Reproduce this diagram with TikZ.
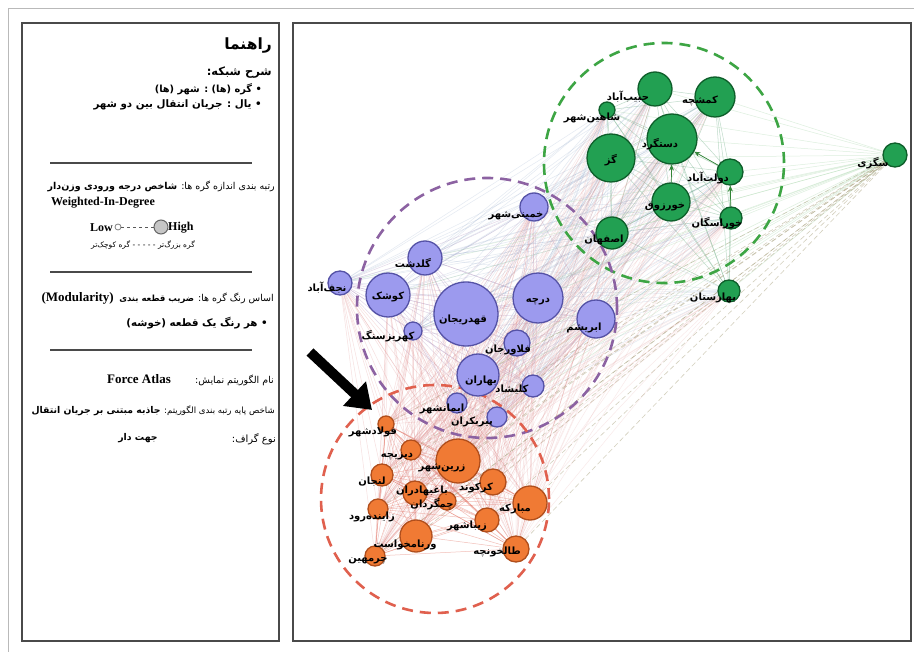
\documentclass[tikz,border=0pt]{standalone}
\usepackage{fontspec}
\setmainfont{Liberation Serif}
\newfontfamily\fa[Script=Arabic]{DejaVu Sans}
\TeXXeTstate=1
\usetikzlibrary{arrows.meta}
\pgfdeclarelayer{paper}
\pgfdeclarelayer{edges}
\pgfdeclarelayer{clusters}
\pgfsetlayers{paper,edges,clusters,main}
\newcommand\rtl[1]{\beginR #1\endR}
\definecolor{gfill}{HTML}{22A052}
\definecolor{gline}{HTML}{0E5E2A}
\definecolor{pfill}{HTML}{9C9AEE}
\definecolor{pline}{HTML}{5552A6}
\definecolor{ofill}{HTML}{F07A34}
\definecolor{oline}{HTML}{B04E1C}
\definecolor{gdash}{HTML}{3DA544}
\definecolor{pdash}{HTML}{8C62A2}
\definecolor{odash}{HTML}{E0604E}
\definecolor{framec}{HTML}{4A4A4A}
\definecolor{edgeb}{HTML}{8FA6C8}
\definecolor{edgep}{HTML}{E08C8C}
\begin{document}
\begin{tikzpicture}[x=1pt,y=-1pt,
  gn/.style={circle,draw=gline,fill=gfill,line width=1.3pt,inner sep=0pt},
  pn/.style={circle,draw=pline,fill=pfill,line width=1.3pt,inner sep=0pt},
  on/.style={circle,draw=oline,fill=ofill,line width=1.3pt,inner sep=0pt},
  lab/.style={font=\fa\bfseries\fontsize{10}{10}\selectfont,inner sep=0pt,text=black},
  ptxt/.style={font=\fa,inner sep=0pt,text=black},
  etxt/.style={font=\bfseries\fontsize{12}{12}\selectfont,inner sep=0pt},
  clu/.style={circle,dashed,dash pattern=on 11pt off 7pt,line width=2.6pt,inner sep=0pt},
  ge/.style={gdash!60!edgeb,opacity=0.4,line width=0.5pt},
  pe/.style={pdash!70,opacity=0.35,line width=0.5pt},
  oe/.style={odash,opacity=0.4,line width=0.5pt},
  gpe/.style={edgeb,opacity=0.24,line width=0.5pt},
  oge/.style={edgep,opacity=0.18,line width=0.5pt},
  poe/.style={edgep,opacity=0.27,line width=0.5pt},
  se/.style={gdash!50,opacity=0.35,line width=0.5pt},
  sde/.style={edgep!60!gdash,opacity=0.45,line width=0.6pt,dashed,dash pattern=on 5pt off 3pt},
  rule/.style={framec,line width=1.4pt}]
\useasboundingbox (0,0) rectangle (914,652);
\begin{pgfonlayer}{paper}
\fill[white] (0,0) rectangle (914,652);
\end{pgfonlayer}
\draw[gray!55,line width=1pt] (8,652) -- (8,9) -- (914,9);
\draw[framec,line width=2.2pt] (22,23) rectangle (279,641);
\draw[framec,line width=2.2pt] (293,23) rectangle (911,641);

% ---------- legend ----------
\node[ptxt,anchor=east] (t1) at (272,46) {\rtl{\fontsize{15.5}{16}\selectfont\bfseries راهنما}};
\node[ptxt,anchor=east] (t2) at (272,73) {\rtl{\fontsize{11.5}{12}\selectfont\bfseries شرح شبکه:}};
\node[ptxt,anchor=east] (t3) at (262,89) {\rtl{\fontsize{9.8}{10}\selectfont\bfseries • گره (ها) : شهر (ها)}};
\node[ptxt,anchor=east] (t4) at (262,105) {\rtl{\fontsize{10.3}{11}\selectfont\bfseries • یال : جریان انتقال بین دو شهر}};
\draw[rule] (50,163) -- (252,163);
\node[ptxt,anchor=east] (t5) at (275,186) {\rtl{{\fontsize{9.5}{10}\selectfont\color{black!70} رتبه بندی اندازه گره ها: }{\fontsize{9.5}{10}\selectfont\bfseries شاخص درجه ورودی وزن‌دار}}};
\node[etxt] (t6) at (103,203) {Weighted-In-Degree};
\node[etxt,anchor=east] (low) at (113,228) {Low};
\node[circle,draw=gray,line width=0.8pt,minimum size=6pt,inner sep=0pt] (sc) at (118,227) {};
\node[circle,draw=gray!80!black,fill=gray!45,line width=1pt,minimum size=14pt,inner sep=0pt] (bc) at (161,227) {};
\draw[gray!70!black,dashed,dash pattern=on 3pt off 3pt,line width=0.8pt] (sc) -- (bc);
\node[etxt,anchor=west] (high) at (168,228) {High};
\node[ptxt] (t7) at (143,245) {\rtl{\fontsize{7.5}{8}\selectfont گره بزرگ‌تر - - - - - گره کوچک‌تر}};
\draw[rule] (50,272) -- (252,272);
\node[ptxt,anchor=east] (t8) at (274,298) {\rtl{{\fontsize{9.5}{10}\selectfont\color{black!70} اساس رنگ گره ها: }{\fontsize{8.5}{9}\selectfont\bfseries ضریب قطعه بندی}}};
\node[etxt,anchor=east,font=\bfseries\fontsize{13}{13}\selectfont] (t8b) at (114,298) {(Modularity)};
\node[ptxt,anchor=east] (t9) at (268,323) {\rtl{\fontsize{10.3}{11}\selectfont\bfseries • هر رنگ یک قطعه (خوشه)}};
\draw[rule] (50,350) -- (252,350);
\node[ptxt,anchor=east] (t10) at (274,380) {\rtl{\fontsize{9.5}{10}\selectfont\color{black!70} نام الگوریتم نمایش:}};
\node[etxt,font=\bfseries\fontsize{13}{13}\selectfont] (t10b) at (139,379) {Force Atlas};
\node[ptxt,anchor=east] (t11) at (275,411) {\rtl{{\fontsize{8.6}{9}\selectfont\color{black!70} شاخص پایه رتبه بندی الگوریتم: }{\fontsize{9.3}{10}\selectfont\bfseries جاذبه مبتنی بر جریان انتقال}}};
\node[ptxt,anchor=east] (t12) at (276,439) {\rtl{\fontsize{10}{10}\selectfont\color{black!70} نوع گراف:}};
\node[ptxt] (t12b) at (138,438) {\rtl{\fontsize{9.3}{10}\selectfont\bfseries جهت دار}};

% ---------- nodes ----------
\node[gn,minimum size=34pt] (g1) at (655,89) {};
\node[gn,minimum size=40pt] (g2) at (715,97) {};
\node[gn,minimum size=16pt] (g3) at (607,110) {};
\node[gn,minimum size=50pt] (g4) at (672,139) {};
\node[gn,minimum size=48pt] (g5) at (611,158) {};
\node[gn,minimum size=26pt] (g6) at (730,172) {};
\node[gn,minimum size=38pt] (g7) at (671,202) {};
\node[gn,minimum size=22pt] (g8) at (731,218) {};
\node[gn,minimum size=32pt] (g9) at (612,233) {};
\node[gn,minimum size=22pt] (g10) at (729,291) {};
\node[gn,minimum size=24pt] (g11) at (895,155) {};

\node[pn,minimum size=28pt] (p1) at (534,207) {};
\node[pn,minimum size=34pt] (p2) at (425,258) {};
\node[pn,minimum size=24pt] (p3) at (340,283) {};
\node[pn,minimum size=44pt] (p4) at (388,295) {};
\node[pn,minimum size=64pt] (p5) at (466,314) {};
\node[pn,minimum size=50pt] (p6) at (538,298) {};
\node[pn,minimum size=38pt] (p7) at (596,319) {};
\node[pn,minimum size=18pt] (p8) at (413,331) {};
\node[pn,minimum size=26pt] (p9) at (517,343) {};
\node[pn,minimum size=42pt] (p10) at (478,375) {};
\node[pn,minimum size=22pt] (p11) at (533,386) {};
\node[pn,minimum size=20pt] (p12) at (457,403) {};
\node[pn,minimum size=20pt] (p13) at (497,417) {};

\node[on,minimum size=16pt] (o1) at (386,424) {};
\node[on,minimum size=20pt] (o2) at (411,450) {};
\node[on,minimum size=44pt] (o3) at (458,461) {};
\node[on,minimum size=22pt] (o4) at (382,475) {};
\node[on,minimum size=26pt] (o5) at (493,482) {};
\node[on,minimum size=24pt] (o6) at (415,493) {};
\node[on,minimum size=18pt] (o7) at (447,501) {};
\node[on,minimum size=20pt] (o8) at (378,509) {};
\node[on,minimum size=34pt] (o9) at (530,503) {};
\node[on,minimum size=24pt] (o10) at (487,520) {};
\node[on,minimum size=32pt] (o11) at (416,536) {};
\node[on,minimum size=26pt] (o12) at (516,549) {};
\node[on,minimum size=20pt] (o13) at (375,556) {};

% ---------- cluster circles ----------
\begin{pgfonlayer}{clusters}
\node[clu,draw=gdash,minimum size=240pt] (cg) at (664,163) {};
\node[clu,draw=pdash,minimum size=260pt] (cp) at (487,308) {};
\node[clu,draw=odash,minimum size=228pt] (co) at (435,499) {};
\end{pgfonlayer}

% ---------- edges ----------
\begin{pgfonlayer}{edges}
\foreach \i in {1,...,10}{\foreach \j in {\i,...,10}{\ifnum\i<\j \draw[ge] (g\i) -- (g\j);\fi}}
\foreach \i in {1,...,13}{\foreach \j in {\i,...,13}{\ifnum\i<\j \draw[pe] (p\i) -- (p\j);\fi}}
\foreach \i in {1,...,13}{\foreach \j in {\i,...,13}{\ifnum\i<\j \draw[oe] (o\i) -- (o\j);\fi}}
\foreach \i in {1,...,10}{\foreach \j in {1,...,13}{\draw[gpe] (g\i) -- (p\j);}}
\foreach \i in {1,...,10}{\foreach \j in {1,...,13}{\draw[oge] (o\j) -- (g\i);}}
\foreach \i in {1,...,13}{\foreach \j in {1,...,13}{\draw[poe] (p\i) -- (o\j);}}
\foreach \i in {1,...,10}{\draw[se] (g\i) -- (g11);}
\foreach \j in {1,...,13}{\draw[se] (p\j) -- (g11);}
\foreach \j in {1,...,13}{\draw[sde] (o\j) -- (g11);}
\draw[gdash!80!black,line width=0.7pt,-{Stealth[length=6pt,width=5pt]}] (g7) -- (g4);
\draw[gdash!80!black,line width=0.7pt,-{Stealth[length=6pt,width=5pt]}] (g6) -- (g4);
\draw[gdash!80!black,line width=0.7pt,-{Stealth[length=6pt,width=5pt]}] (g8) -- (g6);
\end{pgfonlayer}

% ---------- labels ----------
\node[lab] (g1t) at (628,97) {\rtl{حبیب‌آباد}};
\node[lab] (g2t) at (700,101) {\rtl{کمشچه}};
\node[lab] (g3t) at (592,118) {\rtl{شاهین‌شهر}};
\node[lab] (g4t) at (660,144) {\rtl{دستگرد}};
\node[lab] (g5t) at (611,160) {\rtl{گز}};
\node[lab] (g6t) at (708,178) {\rtl{دولت‌آباد}};
\node[lab] (g7t) at (665,207) {\rtl{خورزوق}};
\node[lab] (g8t) at (717,223) {\rtl{خوراسگان}};
\node[lab] (g9t) at (604,240) {\rtl{اصفهان}};
\node[lab] (g10t) at (713,298) {\rtl{بهارستان}};
\node[lab] (g11t) at (873,163) {\rtl{سگزی}};

\node[lab] (p1t) at (516,216) {\rtl{خمینی‌شهر}};
\node[lab] (p2t) at (413,263) {\rtl{گلدشت}};
\node[lab] (p3t) at (327,288) {\rtl{نجف‌آباد}};
\node[lab] (p4t) at (388,297) {\rtl{کوشک}};
\node[lab] (p5t) at (463,320) {\rtl{قهدریجان}};
\node[lab] (p6t) at (538,302) {\rtl{درچه}};
\node[lab] (p7t) at (584,328) {\rtl{ابریشم}};
\node[lab] (p8t) at (388,336) {\rtl{کهریزسنگ}};
\node[lab] (p9t) at (508,350) {\rtl{فلاورجان}};
\node[lab] (p10t) at (481,381) {\rtl{بهاران}};
\node[lab] (p11t) at (512,390) {\rtl{کلیشاد}};
\node[lab] (p12t) at (442,409) {\rtl{ایمانشهر}};
\node[lab] (p13t) at (472,422) {\rtl{پیربکران}};

\node[lab] (o1t) at (373,432) {\rtl{فولادشهر}};
\node[lab] (o2t) at (397,456) {\rtl{دیزیچه}};
\node[lab] (o3t) at (442,468) {\rtl{زرین‌شهر}};
\node[lab] (o4t) at (372,482) {\rtl{لنجان}};
\node[lab] (o5t) at (476,488) {\rtl{کرکوند}};
\node[lab] (o6t) at (422,491) {\rtl{باغبهادران}};
\node[lab] (o7t) at (432,504) {\rtl{چمگردان}};
\node[lab] (o8t) at (372,517) {\rtl{زاینده‌رود}};
\node[lab] (o9t) at (515,509) {\rtl{مبارکه}};
\node[lab] (o10t) at (467,526) {\rtl{زیباشهر}};
\node[lab] (o11t) at (405,545) {\rtl{ورنامخواست}};
\node[lab] (o12t) at (497,552) {\rtl{طالخونچه}};
\node[lab] (o13t) at (368,561) {\rtl{چرمهین}};

% ---------- arrow ----------
\coordinate (arA) at (310,352);
\coordinate (arB) at (372,410);
\draw[black,line width=10pt,-{Triangle[length=24pt,width=32pt]}] (arA) -- (arB);
\end{tikzpicture}
\end{document}
